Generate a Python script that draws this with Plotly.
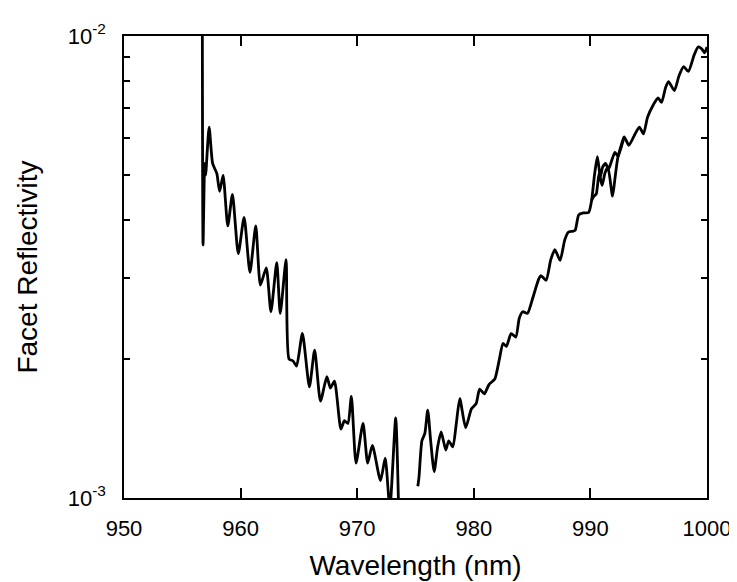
import plotly.graph_objects as go

# left branch of the measured curve (short-wavelength side)
wl_left = [956.72, 956.78, 956.92, 957.0, 957.3, 957.6, 957.96, 958.2, 958.5, 958.9,
           959.3, 959.8, 960.3, 960.8, 961.3, 961.7, 962.2, 962.6, 963.1, 963.4,
           963.9, 964.15, 964.5, 964.8, 965.3, 965.9, 966.35, 966.85, 967.4, 967.7,
           968.05, 968.6, 968.9, 969.2, 969.5, 969.9, 970.5, 970.9, 971.3, 972.0,
           972.4, 972.8, 973.3, 973.55]
refl_left = [1.0e-2, 3.53e-3, 5.3e-3, 5.0e-3, 6.35e-3, 5.3e-3, 5.04e-3, 4.61e-3, 4.99e-3, 3.88e-3,
             4.54e-3, 3.38e-3, 4.05e-3, 3.08e-3, 3.88e-3, 2.89e-3, 3.15e-3, 2.53e-3, 3.23e-3, 2.51e-3,
             3.28e-3, 2.0e-3, 1.98e-3, 1.93e-3, 2.27e-3, 1.74e-3, 2.09e-3, 1.62e-3, 1.83e-3, 1.73e-3,
             1.79e-3, 1.41e-3, 1.47e-3, 1.45e-3, 1.66e-3, 1.19e-3, 1.45e-3, 1.19e-3, 1.30e-3, 1.09e-3,
             1.22e-3, 0.95e-3, 1.49e-3, 0.95e-3]

# right branch (long-wavelength side), upper strand through the 990-993 nm loop
wl_right = [975.2, 975.3, 975.55, 975.8, 976.05, 976.3, 976.6, 976.9, 977.2, 977.6,
            977.85, 978.2, 978.5, 978.8, 979.3, 979.8, 980.2, 980.5, 980.9, 981.3,
            981.8, 982.2, 982.5, 982.8, 983.2, 983.6, 983.9, 984.2, 984.6, 985.0,
            985.55, 985.76, 986.2, 986.6, 986.95, 987.4, 987.8, 988.1, 988.5, 988.7,
            989.0, 989.4, 989.85, 990.1, 990.35, 990.6, 990.85, 991.05, 991.3, 991.55,
            991.8, 992.1, 992.35, 992.6, 992.9, 993.3, 993.75, 994.2, 994.55, 994.9,
            995.4, 995.8, 996.1, 996.45, 996.7, 997.2, 997.6, 998.0, 998.4, 998.9,
            999.25, 999.55, 999.8, 1000.0]
refl_right = [1.06e-3, 1.11e-3, 1.33e-3, 1.38e-3, 1.55e-3, 1.33e-3, 1.14e-3, 1.29e-3, 1.39e-3, 1.27e-3,
              1.33e-3, 1.29e-3, 1.45e-3, 1.64e-3, 1.42e-3, 1.56e-3, 1.60e-3, 1.72e-3, 1.68e-3, 1.76e-3,
              1.81e-3, 2.0e-3, 2.16e-3, 2.13e-3, 2.27e-3, 2.23e-3, 2.45e-3, 2.53e-3, 2.51e-3, 2.68e-3,
              2.97e-3, 3.03e-3, 2.96e-3, 3.28e-3, 3.45e-3, 3.27e-3, 3.62e-3, 3.76e-3, 3.78e-3, 3.8e-3,
              4.1e-3, 4.14e-3, 4.15e-3, 4.4e-3, 5.0e-3, 5.48e-3, 4.95e-3, 5.2e-3, 5.3e-3, 5.15e-3,
              5.35e-3, 5.6e-3, 5.5e-3, 5.75e-3, 6.05e-3, 5.8e-3, 6.08e-3, 6.35e-3, 6.14e-3, 6.67e-3,
              7.1e-3, 7.35e-3, 7.18e-3, 7.74e-3, 7.97e-3, 7.62e-3, 8.2e-3, 8.58e-3, 8.38e-3, 9.1e-3,
              9.47e-3, 9.38e-3, 9.2e-3, 9.47e-3]

# lower strand of the loop near 990-993 nm
wl_loop = [990.1, 990.3, 990.5, 990.75, 991.0, 991.25, 991.5, 991.9, 992.1, 992.35, 992.6, 992.9]
refl_loop = [4.4e-3, 4.5e-3, 4.55e-3, 5.05e-3, 4.75e-3, 5.05e-3, 5.2e-3, 4.5e-3, 4.9e-3, 5.45e-3, 5.7e-3, 6.05e-3]

x_ticks = [950, 960, 970, 980, 990, 1000]
y_ticks = [0.001, 0.01]
y_ticktext = ["10<sup>-3</sup>", "10<sup>-2</sup>"]
y_minor = [0.002, 0.003, 0.004, 0.005, 0.006, 0.007, 0.008, 0.009]

FONT = "Liberation Sans, Arial, sans-serif"
line = dict(color="black", width=2.8, shape="spline", smoothing=0.6)

fig = go.Figure()
for xs, ys in [(wl_left, refl_left), (wl_right, refl_right), (wl_loop, refl_loop)]:
    fig.add_trace(go.Scatter(x=xs, y=ys, mode="lines", line=line, showlegend=False))

# the page body shifts the figure by 8px, margins account for it
fig.update_layout(
    width=737,
    height=582,
    margin=dict(l=116, r=38, t=23, b=92),
    paper_bgcolor="white",
    plot_bgcolor="white",
    font=dict(family=FONT, color="black", size=22),
)
fig.update_xaxes(
    range=[950, 1000],
    tickvals=x_ticks,
    ticks="inside",
    ticklen=10,
    tickwidth=1.5,
    tickcolor="black",
    showline=True,
    linecolor="black",
    linewidth=1.5,
    mirror="ticks",
    showgrid=False,
    zeroline=False,
    ticklabelstandoff=10,
    title=dict(text="Wavelength (nm)", font=dict(size=28), standoff=15),
)
fig.update_yaxes(
    type="log",
    range=[-3, -2],
    tickvals=y_ticks,
    ticktext=y_ticktext,
    ticks="inside",
    ticklen=6,
    tickwidth=1.5,
    tickcolor="black",
    minor=dict(tickvals=y_minor, ticks="inside", ticklen=6, tickwidth=1.5,
               tickcolor="black", showgrid=False),
    showline=True,
    linecolor="black",
    linewidth=1.5,
    mirror="ticks",
    showgrid=False,
    zeroline=False,
    ticklabelstandoff=12,
    title=dict(text="Facet Reflectivity", font=dict(size=28), standoff=22),
)

fig.write_html("out.html")
